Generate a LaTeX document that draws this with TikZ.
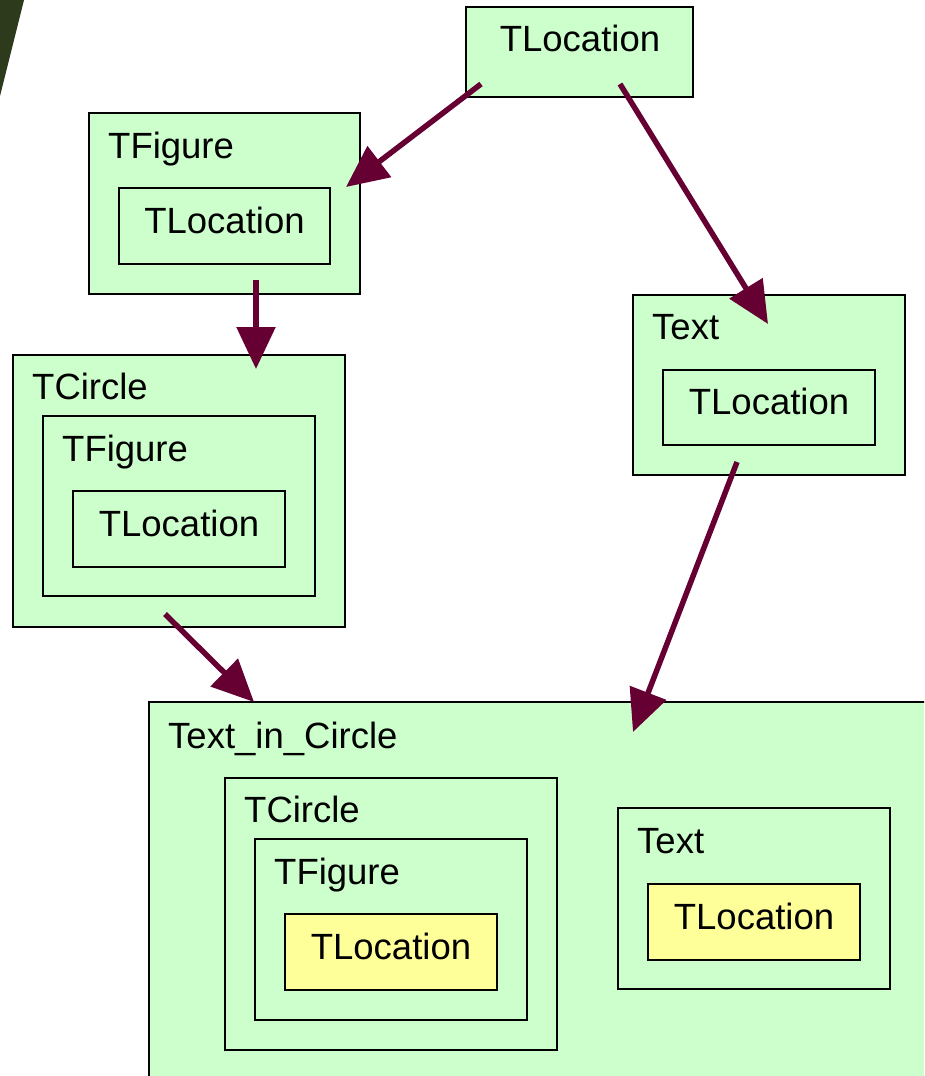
\documentclass[tikz,border=0pt]{standalone}
\usepackage{fontspec}
\setmainfont{Liberation Sans}
\usetikzlibrary{arrows.meta,calc}
\definecolor{boxgreen}{HTML}{CCFFCC}
\definecolor{boxyellow}{HTML}{FFFF99}
\definecolor{arrowred}{HTML}{660033}
\definecolor{wedge}{HTML}{2E3A1C}
\tikzset{
  gbox/.style={draw=black, line width=2pt, fill=boxgreen, anchor=north west, inner sep=0pt, outer sep=0pt},
  ybox/.style={gbox, fill=boxyellow},
  lbl/.style={anchor=base west, inner sep=0pt, font=\fontsize{36.5}{40}\selectfont},
  ctr/.style={inner sep=0pt, anchor=base, font=\fontsize{36.5}{40}\selectfont},
  conn/.style={draw=arrowred, line width=5.5pt, -{Triangle[length=42pt,width=38pt]}},
}
\begin{document}
\begin{tikzpicture}[x=1pt,y=-1pt]
\useasboundingbox (0,0) rectangle (924,1076);
\clip (0,0) rectangle (924,1076);
\fill[wedge] (0,0) -- (24,0) -- (0,96) -- cycle;
% top TLocation
\node[gbox, minimum width=227pt, minimum height=90pt] (loc) at (466,7) {};
\node[ctr] (loct) at (580,51) {TLocation};
% TFigure
\node[gbox, minimum width=271pt, minimum height=181pt] (fig) at (89,113) {};
\node[lbl] (figl) at (108,158) {TFigure};
\node[gbox, minimum width=211pt, minimum height=76pt] (figloc) at (119,188) {};
\node[ctr] at ($(figloc.center)+(0,7)$) {TLocation};
% Text
\node[gbox, minimum width=272pt, minimum height=180pt] (txt) at (633,295) {};
\node[lbl] (txtl) at (652,339) {Text};
\node[gbox, minimum width=212pt, minimum height=75pt] (txtloc) at (663,370) {};
\node[ctr] at ($(txtloc.center)+(0,7)$) {TLocation};
% TCircle
\node[gbox, minimum width=332pt, minimum height=272pt] (cir) at (13,355) {};
\node[lbl] (cirl) at (32,399) {TCircle};
\node[gbox, minimum width=272pt, minimum height=180pt] (cirfig) at (43,416) {};
\node[lbl] (cirfigl) at (62,461) {TFigure};
\node[gbox, minimum width=212pt, minimum height=76pt] (cirloc) at (73,491) {};
\node[ctr] at ($(cirloc.center)+(0,7)$) {TLocation};
% Text_in_Circle
\node[gbox, minimum width=900pt, minimum height=500pt] (tic) at (149,702) {};
\node[lbl] (ticl) at (168,748) {Text\_in\_Circle};
\node[gbox, minimum width=332pt, minimum height=272pt] (ticcir) at (225,778) {};
\node[lbl] (ticcirl) at (244,822) {TCircle};
\node[gbox, minimum width=272pt, minimum height=181pt] (ticfig) at (255,839) {};
\node[lbl] (ticfigl) at (274,884) {TFigure};
\node[ybox, minimum width=212pt, minimum height=76pt] (ticloc) at (285,914) {};
\node[ctr] at ($(ticloc.center)+(0,7)$) {TLocation};
\node[gbox, minimum width=272pt, minimum height=181pt] (tictxt) at (618,808) {};
\node[lbl] (tictxtl) at (637,853) {Text};
\node[ybox, minimum width=212pt, minimum height=76pt] (tictxtloc) at (648,884) {};
\node[ctr] at ($(tictxtloc.center)+(0,7)$) {TLocation};
% connectors
\coordinate (a1s) at (481,84);  \coordinate (a1e) at (346,187);
\coordinate (a2s) at (620,84);  \coordinate (a2e) at (768,324);
\coordinate (a3s) at (256,280); \coordinate (a3e) at (256,369);
\coordinate (a4s) at (165,614); \coordinate (a4e) at (254,702);
\coordinate (a5s) at (737,462); \coordinate (a5e) at (633,732);
\draw[conn] (a1s) -- (a1e);
\draw[conn] (a2s) -- (a2e);
\draw[conn] (a3s) -- (a3e);
\draw[conn] (a4s) -- (a4e);
\draw[conn] (a5s) -- (a5e);
\end{tikzpicture}
\end{document}
